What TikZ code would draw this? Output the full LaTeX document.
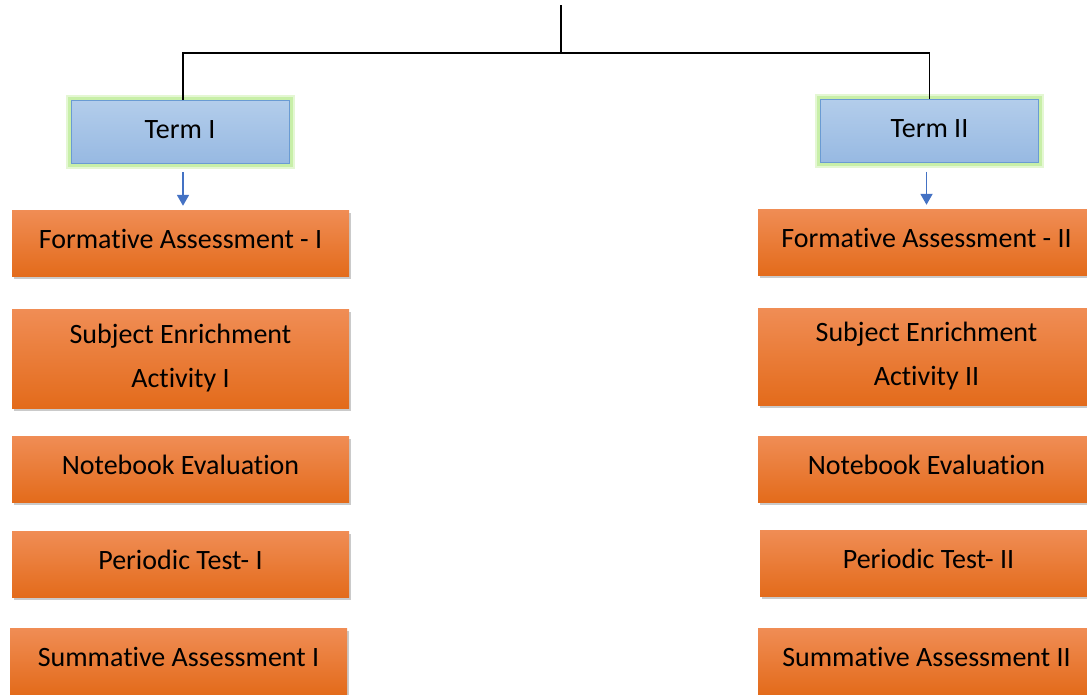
\documentclass[tikz,border=0pt]{standalone}
\usepackage{fontspec}
\setmainfont[Ligatures=NoCommon]{Carlito}
\usepackage{tikz}
\usepackage{xcolor}
\definecolor{termtopcolor}{HTML}{B3CDEB}
\definecolor{termbottomcolor}{HTML}{97B9E2}
\definecolor{termbordercolor}{HTML}{6A9BD3}
\definecolor{glowcolor}{HTML}{C8EFA8}
\definecolor{acttopcolor}{HTML}{F08D55}
\definecolor{actmidcolor}{HTML}{F47B2B}
\definecolor{actbottomcolor}{HTML}{E36B1B}
\definecolor{arrowcolor}{HTML}{4472C4}
\usetikzlibrary{
  arrows.meta,
  shadows,
}
\tikzstyle{basicblock}=[minimum width=337pt, minimum height=66pt, inner sep=0pt, font=\fontsize{28}{33}\selectfont, align=center]
\tikzstyle{termblock}=[basicblock, minimum width=218pt, minimum height=63pt, text depth=4pt, draw=termbordercolor, line width=0.8pt, top color=termtopcolor, bottom color=termbottomcolor, preaction={draw=glowcolor!50, line width=11pt}, preaction={draw=glowcolor, line width=7pt}]
\tikzstyle{actshade}=[basicblock, top color=acttopcolor, middle color=actmidcolor, bottom color=actbottomcolor, drop shadow={shadow xshift=2pt, shadow yshift=-3pt, opacity=0.35, fill=black!60}]
\tikzstyle{actblock}=[actshade, text depth=8pt]
\tikzstyle{tallblock}=[actshade, minimum height=99pt, font=\fontsize{28}{44}\selectfont]
\tikzstyle{downarrow}=[-{Triangle[length=11pt, width=12pt]}, draw=arrowcolor, fill=arrowcolor, line width=1.8pt, shorten <=9pt, shorten >=4pt]

\begin{document}
\begin{tikzpicture}[x=1pt, y=-1pt]
	\useasboundingbox (0,0) rectangle (1087,694);
	\clip (0,0) rectangle (1087,694);
	\coordinate (top) at (561,5);
	\coordinate (split) at (561,53);
	\node (termone) [termblock] at (180,131.5) {Term I};
	\node (termtwo) [termblock] at (929.5,131) {Term II};
	% Term I column
	\path (termone) + (0.5,111.5) node (formone) [actblock] {Formative Assessment - I};
	\path (formone) + (0,115.5) node (enrichone) [tallblock] {Subject Enrichment\\Activity I};
	\path (formone) + (0,226) node (notebookone) [actblock] {Notebook Evaluation};
	\path (formone) + (0,321) node (periodicone) [actblock] {Periodic Test- I};
	\path (formone) + (-2,418) node (summativeone) [actblock] {Summative Assessment I};
	% Term II column
	\path (termtwo) + (-3,111) node (formtwo) [actblock] {Formative Assessment - II};
	\path (formtwo) + (0,114.5) node (enrichtwo) [tallblock, minimum height=97pt] {Subject Enrichment\\Activity II};
	\path (formtwo) + (0,227) node (notebooktwo) [actblock] {Notebook Evaluation};
	\path (formtwo) + (2,321) node (periodictwo) [actblock] {Periodic Test- II};
	\path (formtwo) + (0,419) node (summativetwo) [actblock] {Summative Assessment II};
	\draw [line width=1.6pt] (top) -- (split);
	\draw [line width=1.3pt] ([xshift=3pt]termone.north) |- (split) -| (termtwo.north);
	\draw [downarrow] ([xshift=3pt]termone.south) -- ([xshift=2.5pt]formone.north);
	\draw [downarrow] ([xshift=-3pt]termtwo.south) -- (formtwo.north);
\end{tikzpicture}
\end{document}
